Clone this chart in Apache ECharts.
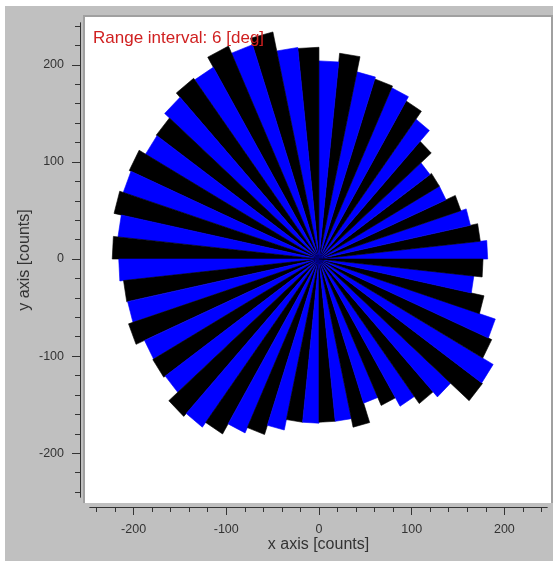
<!DOCTYPE html>
<html><head><meta charset="utf-8">
<script src="https://cdn.jsdelivr.net/npm/echarts@6/dist/echarts.min.js"></script>
<style>html,body{margin:0;padding:0;background:#fff}#c{width:553px;height:561px}</style>
</head><body><div id="c"></div>
<script>
// ---- data ----
const binWidth = 6; // degrees per bin, bins start at 0 deg
const counts = [182,175,167,161,150,150,148,163,178,188,
                193,195,197,213,204,218,219,239,232,240,
                228,230,224,217,216,224,222,226,218,223,
                216,212,211,216,206,207,205,218,214,208,
                196,190,180,169,169,168,168,177,156,165,
                175,184,191,218,217,204,200,182,168,177];
const binColors = ['#0000ff', '#000000'];
const xMajorTicks = [-200, -100, 0, 100, 200];
const yMajorTicks = [-200, -100, 0, 100, 200];
const minorTicks = [-240,-220,-200,-180,-160,-140,-120,-100,-80,-60,-40,-20,0,
                    20,40,60,80,100,120,140,160,180,200,220,240];
const xRange = [-247, 246];
const yRange = [-245, 243];
const titleText = 'Range interval: 6 [deg]';
const xName = 'x axis [counts]';
const yName = 'y axis [counts]';

const FONT = 'Liberation Sans, Arial, sans-serif';
const chart = echarts.init(document.getElementById('c'));

const binData = counts.map((r, i) => [i * binWidth, (i + 1) * binWidth, r]);

function renderItem(params, api) {
  const a0 = api.value(0) * Math.PI / 180;
  const a1 = api.value(1) * Math.PI / 180;
  const r = api.value(2);
  const c = api.coord([0, 0]);
  const p1 = api.coord([r * Math.cos(a0), r * Math.sin(a0)]);
  const p2 = api.coord([r * Math.cos(a1), r * Math.sin(a1)]);
  const col = binColors[params.dataIndex % 2];
  return { type: 'polygon', shape: { points: [c, p1, p2] },
           style: { fill: col, stroke: col, lineWidth: 0.6 } };
}

function axisCommon(range, pos) {
  return { type: 'value', min: range[0], max: range[1], position: pos, offset: 10,
    splitLine: { show: false }, z: 5,
    axisLine: { show: true, onZero: false, lineStyle: { color: '#333', width: 1 } } };
}

chart.setOption({
  animation: false,
  backgroundColor: '#ffffff',
  title: { text: titleText, left: 88, top: 25,
    textStyle: { color: '#d02020', fontSize: 17, fontWeight: 'normal', fontFamily: FONT } },
  graphic: [
    { type: 'rect', z: -10, silent: true, shape: { x: 5, y: 6, width: 548, height: 555 }, style: { fill: '#c0c0c0' } },
    { type: 'rect', z: -9, silent: true, shape: { x: 83, y: 15, width: 470, height: 488 }, style: { fill: '#a0a0a0' } },
    { type: 'rect', z: -8, silent: true, shape: { x: 85, y: 17, width: 466, height: 486 }, style: { fill: '#ffffff' } }
  ],
  grid: { left: 90, right: 6, top: 23, bottom: 64 },
  xAxis: [
    Object.assign(axisCommon(xRange, 'bottom'), {
      name: xName, nameLocation: 'middle', nameGap: 30, nameMoveOverlap: false,
      nameTextStyle: { color: '#333', fontSize: 16, fontFamily: FONT },
      axisTick: { show: true, length: 8, customValues: xMajorTicks, lineStyle: { color: '#333' } },
      axisLabel: { show: true, margin: 16, customValues: xMajorTicks, color: '#333', fontSize: 12.5, fontFamily: FONT }
    }),
    Object.assign(axisCommon(xRange, 'bottom'), {
      axisTick: { show: true, length: 5, customValues: minorTicks, lineStyle: { color: '#333' } },
      axisLabel: { show: false }
    })
  ],
  yAxis: [
    Object.assign(axisCommon(yRange, 'left'), {
      name: yName, nameLocation: 'middle', nameGap: 47, nameMoveOverlap: false,
      nameTextStyle: { color: '#333', fontSize: 16, fontFamily: FONT },
      axisTick: { show: true, length: 8, customValues: yMajorTicks, lineStyle: { color: '#333' } },
      axisLabel: { show: true, margin: 16, customValues: yMajorTicks, color: '#333', fontSize: 12.5, fontFamily: FONT }
    }),
    Object.assign(axisCommon(yRange, 'left'), {
      axisTick: { show: true, length: 5, customValues: minorTicks, lineStyle: { color: '#333' } },
      axisLabel: { show: false }
    })
  ],
  series: [{
    type: 'custom', xAxisIndex: 0, yAxisIndex: 0, z: 2,
    renderItem: renderItem,
    encode: { x: 0, y: 2 },
    data: binData
  }]
});
</script></body></html>
